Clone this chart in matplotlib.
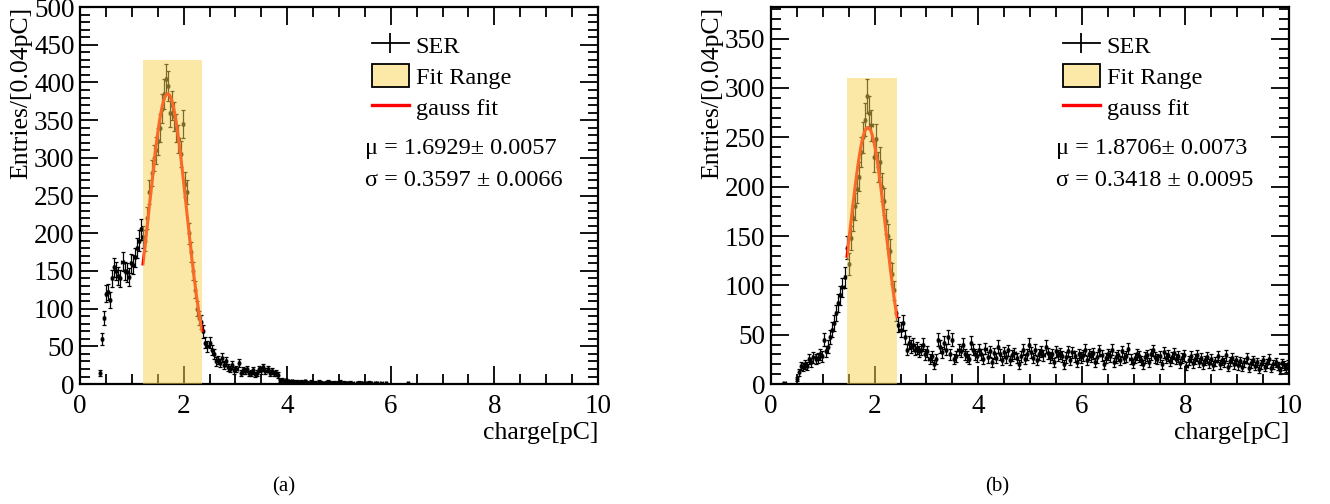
import numpy as np
import matplotlib
matplotlib.use("Agg")
import matplotlib.pyplot as plt
from matplotlib.patches import Patch
from matplotlib.lines import Line2D
from matplotlib.ticker import MultipleLocator

plt.rcParams['font.family'] = ['Liberation Serif', 'DejaVu Serif']

# -------------------------------
# SER charge spectra, 0.04 pC bins from 0 to 10 pC
# -------------------------------
bin_width = 0.04
bin_edges = np.arange(0, 10 + bin_width / 2, bin_width)

counts_a = [
    0, 0, 0, 0, 0, 0, 0, 0, 0, 15, 60, 88, 120, 122, 112, 140, 155, 150, 143, 140, 162, 150, 148, 142, 160,
    158, 168, 180, 190, 205, 195, 190, 220, 255, 280, 300, 310, 322, 340, 365, 385, 405, 395, 360, 370, 355, 340, 325, 305, 345,
    265, 255, 200, 175, 150, 125, 100, 88, 82, 70, 55, 50, 55, 45, 40, 30, 32, 28, 35, 25, 30, 22, 20, 25, 18,
    20, 28, 15, 18, 17, 20, 14, 15, 18, 13, 15, 20, 18, 22, 17, 20, 15, 17, 14, 15, 12, 5, 6, 4, 5,
    4, 3, 4, 3, 3, 2, 3, 2, 4, 2, 1, 3, 2, 2, 1, 3, 2, 1, 2, 3, 2, 1, 2, 1, 2,
    3, 1, 2, 1, 1, 2, 1, 0, 1, 2, 1, 1, 0, 1, 2, 1, 0, 1, 1, 0, 1, 0, 1, 0, 0,
    0, 0, 0, 0, 0, 0, 0, 0, 1, 0, 0, 0, 0, 0, 0, 0, 0, 0, 0, 0, 0, 0, 0, 0, 0,
] + [0] * 75

counts_b = [
    0, 0, 0, 0, 0, 0, 1, 0, 0, 0, 0, 0, 5, 12, 18, 17, 20, 18, 25, 22, 27, 25, 26, 30, 28,
    45, 33, 38, 48, 55, 62, 72, 82, 90, 98, 108, 138, 122, 148, 168, 180, 198, 210, 235, 250, 268, 292, 275, 262, 230,
    248, 220, 225, 200, 185, 165, 150, 135, 112, 95, 72, 60, 55, 62, 48, 35, 42, 38, 40, 35, 37, 33, 35, 40, 30,
    33, 25, 28, 20, 25, 45, 38, 32, 42, 35, 48, 30, 45, 25, 28, 35, 33, 40, 30, 28, 25, 42, 35, 30, 28,
    35, 30, 25, 36, 27, 33, 22, 31, 26, 38, 30, 24, 32, 27, 34, 24, 29, 31, 26, 20, 28, 35, 25, 30, 40,
    32, 26, 35, 24, 30, 33, 29, 38, 31, 27, 30, 22, 33, 29, 31, 28, 20, 27, 33, 24, 32, 28, 22, 30, 27,
    29, 35, 24, 30, 28, 31, 22, 27, 34, 29, 20, 26, 30, 28, 35, 22, 27, 29, 24, 33, 26, 28, 36, 25, 21,
    26, 30, 28, 24, 20, 27, 29, 22, 30, 34, 27, 25, 28, 20, 32, 26, 29, 23, 27, 31, 25, 28, 21, 26, 29,
    18, 24, 28, 21, 25, 29, 22, 26, 20, 24, 27, 21, 25, 19, 23, 28, 20, 24, 22, 29, 17, 23, 26, 20, 24,
    19, 23, 17, 22, 26, 16, 21, 24, 18, 22, 15, 20, 24, 17, 21, 25, 16, 20, 22, 18, 14, 21, 19, 16, 20,
]

# gauss fit results: amplitude, mean, sigma and their errors
fit_a = dict(amp=385, mu=1.6929, mu_err=0.0057, sigma=0.3597, sigma_err=0.0066)
fit_b = dict(amp=260, mu=1.8706, mu_err=0.0073, sigma=0.3418, sigma_err=0.0095)

# fit window [low, high] and height of the shaded band
fit_range_a = (1.215, 2.355, 430)
fit_range_b = (1.467, 2.43, 310)

y_max_a = 500
y_max_b = 382


def gauss(x, amp, mu, sigma):
    return amp * np.exp(-0.5 * ((x - mu) / sigma) ** 2)


def draw_panel(ax, counts, fit, fit_range, y_max, mu_text, sigma_text):
    counts = np.asarray(counts, dtype=float)
    centers = 0.5 * (bin_edges[:-1] + bin_edges[1:])
    keep = counts > 0

    ax.errorbar(centers[keep], counts[keep], yerr=np.sqrt(counts[keep]), xerr=bin_width / 2,
                fmt='o', ms=1.8, color='black', ecolor='black', elinewidth=0.9,
                capsize=1.2, capthick=0.9, zorder=2)

    lo, hi, top = fit_range
    xf = np.linspace(lo, hi, 200)
    ax.plot(xf, gauss(xf, fit['amp'], fit['mu'], fit['sigma']), color='red', lw=2.2, zorder=3)

    # the shaded fit window sits on top of the points and the curve
    ax.fill_between([lo, hi], 0, top, color='#f9d350', alpha=0.5, lw=0, zorder=4)

    ax.set_xlim(0, 10)
    ax.set_ylim(0, y_max)
    ax.xaxis.set_major_locator(MultipleLocator(2))
    ax.xaxis.set_minor_locator(MultipleLocator(0.5))
    ax.yaxis.set_major_locator(MultipleLocator(50))
    ax.yaxis.set_minor_locator(MultipleLocator(10))
    ax.tick_params(which='both', direction='in', top=True, right=True, width=1.3, labelsize=19.5)
    ax.tick_params(axis='x', which='major', length=13, pad=7)
    ax.tick_params(axis='y', which='major', length=13, pad=4)
    ax.tick_params(which='minor', length=7)
    for s in ax.spines.values():
        s.set_linewidth(1.6)

    ax.set_xlabel('charge[pC]', loc='right', fontsize=18.5, labelpad=2)
    ax.set_ylabel('Entries/[0.04pC]', loc='top', fontsize=18.5, labelpad=1)

    handles = [
        Line2D([], [], color='black', marker='|', ms=15, mew=1.3, lw=1.3),
        Patch(facecolor='#fce9a8', edgecolor='black', lw=1.3),
        Line2D([], [], color='red', lw=2.4),
    ]
    ax.legend(handles, ['SER', 'Fit Range', 'gauss fit'], loc='upper left',
              bbox_to_anchor=(0.545, 0.958), frameon=False, fontsize=17.5,
              handlelength=1.5, handleheight=1.1, handletextpad=0.3,
              labelspacing=0.26, borderaxespad=0)

    ax.text(0.55, 0.625, mu_text, transform=ax.transAxes, fontsize=17.5, va='center')
    ax.text(0.55, 0.54, sigma_text, transform=ax.transAxes, fontsize=17.5, va='center')


fig = plt.figure(figsize=(13.3, 5.04), dpi=100)
ax_a = fig.add_axes([0.0602, 0.238, 0.3894, 0.748])
ax_b = fig.add_axes([0.5797, 0.238, 0.3895, 0.748])

draw_panel(ax_a, counts_a, fit_a, fit_range_a, y_max_a,
           'μ = %.4f± %.4f' % (fit_a['mu'], fit_a['mu_err']),
           'σ = %.4f ± %.4f' % (fit_a['sigma'], fit_a['sigma_err']))
draw_panel(ax_b, counts_b, fit_b, fit_range_b, y_max_b,
           'μ = %.4f± %.4f' % (fit_b['mu'], fit_b['mu_err']),
           'σ = %.4f ± %.4f' % (fit_b['sigma'], fit_b['sigma_err']))

fig.text(0.2135, 0.034, '(a)', ha='center', va='center', fontsize=15)
fig.text(0.750, 0.034, '(b)', ha='center', va='center', fontsize=15)

fig.savefig('out.png', dpi=100)
